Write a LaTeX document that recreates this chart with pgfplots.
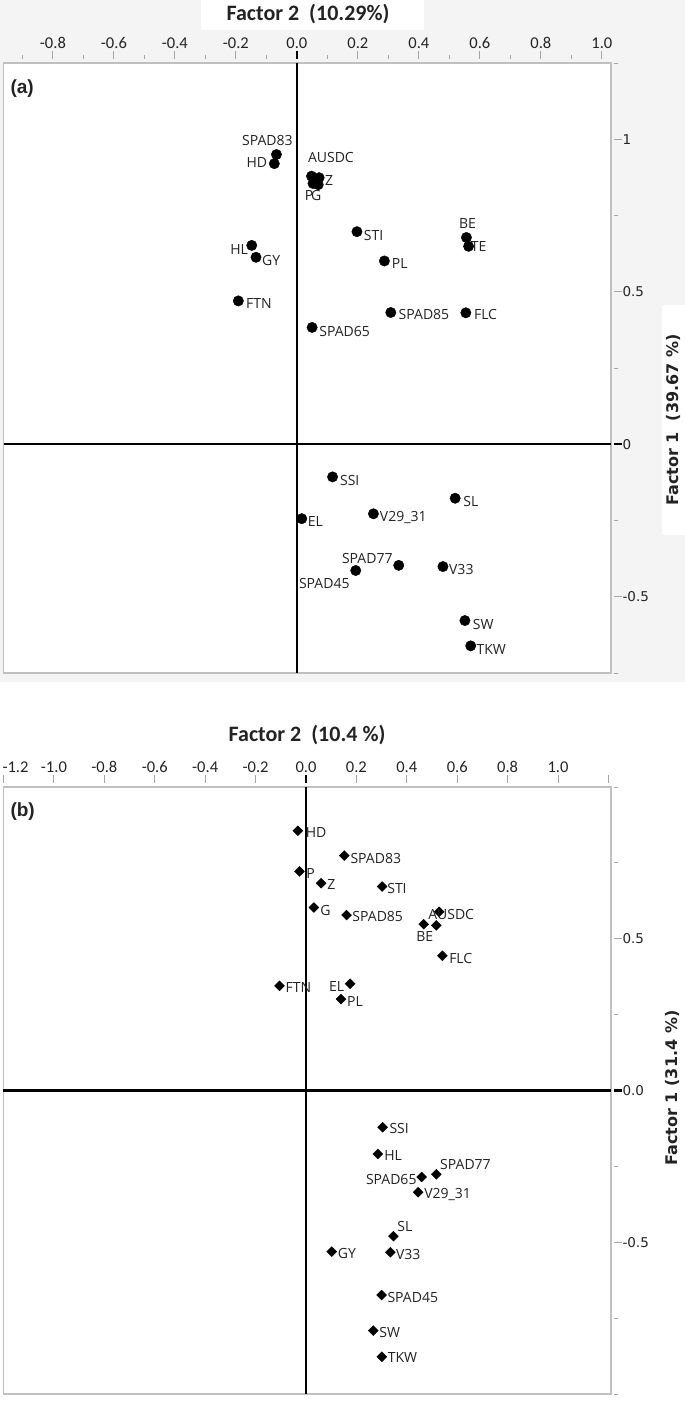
\documentclass[border=0pt]{standalone}
\usepackage{pgfplots}
\pgfplotsset{compat=1.18}
\usepackage{fontspec}
\setmainfont{Open Sans}
\newfontfamily\carlito{Carlito}
\newfontfamily\dejavu{DejaVu Sans}
\newfontfamily\arialf{Liberation Sans}

\definecolor{bgA}{RGB}{244,244,244}
\definecolor{framec}{RGB}{192,192,192}
\definecolor{tickc}{RGB}{165,165,165}
\definecolor{txt}{RGB}{35,35,35}

\pgfplotsset{
  pca/.style={
    scale only axis, clip=false,
    anchor=north west,
    axis background/.style={fill=white},
    axis line style={draw=framec, line width=1.4pt},
    tick align=outside,
    xtick pos=right, ytick pos=right,
    xticklabel pos=right, yticklabel pos=right,
    tick style={tickc, line width=0.9pt},
    xtick style={yshift=4pt},
    ytick style={xshift=3pt},
    major tick length=8pt, minor tick length=4pt,
    /pgf/number format/assume math mode=true,
    xticklabel style={font=\carlito\fontsize{16.5}{18}\selectfont, text=txt, yshift=3pt},
    yticklabel style={font=\dejavu\fontsize{13.5}{16}\selectfont, text=txt},
    extra x ticks={0}, extra x tick labels={},
    extra y ticks={0}, extra y tick labels={},
    extra tick style={grid=major, major grid style={black, line width=2.2pt},
      tick style={black, line width=2.4pt}},
  },
  lbls/.style={
    nodes near coords, point meta=explicit symbolic,
    visualization depends on={value \thisrow{anc}\as\anc},
    visualization depends on={\thisrow{dx}\as\dx},
    visualization depends on={\thisrow{dy}\as\dy},
    every node near coord/.append style={anchor=\anc, xshift=\dx pt, yshift=\dy pt,
      inner sep=0pt, text=txt, font=\fontsize{14}{16}\selectfont},
  },
}

\begin{document}
\begin{tikzpicture}[x=1pt,y=1pt]
\useasboundingbox (0,0) rectangle (685,-1401);
\fill[bgA] (0,0) rectangle (685,-682);
\fill[white] (201,0) rectangle (424,-30);
\fill[white] (662,-305) rectangle (685,-535);

% panel (a): x = factor 2, y = factor 1
\begin{axis}[pca, at={(3.5pt,-63pt)},
  width=607.5pt, height=610pt,
  xmin=-0.962, xmax=1.030, ymin=-0.75, ymax=1.25,
  xtick={-0.8,-0.6,-0.4,-0.2,0,0.2,0.4,0.6,0.8,1.0},
  minor xtick={-0.9,-0.7,-0.5,-0.3,-0.1,0.1,0.3,0.5,0.7,0.9},
  ytick={-0.5,0,0.5,1},
  minor ytick={-0.75,-0.25,0.25,0.75,1.25},
  xticklabel style={/pgf/number format/.cd, fixed, fixed zerofill, precision=1},
]
\addplot[only marks, mark=*, mark size=5.2pt, mark options={fill=black, draw=black}, lbls]
  table[col sep=comma, x=x, y=y, meta=lbl]{
x,y,lbl,anc,dx,dy
-0.067,0.950,SPAD83,base,-9,9
-0.074,0.920,HD,base east,-7,-3.7
0.048,0.879,AUSDC,base west,-3.7,13.7
0.073,0.874,Z,base west,5.7,-7.7
0.053,0.855,P,base west,-8.3,-16.7
0.070,0.851,G,base west,-7.3,-15.7
0.197,0.697,STI,base west,6.7,-8.7
0.556,0.678,BE,base,1,9.3
0.563,0.649,TE,base west,2,-5
-0.148,0.652,HL,base east,-3.7,-8.7
-0.134,0.613,GY,base west,6,-8
0.287,0.601,PL,base west,7.3,-7.3
-0.192,0.470,FTN,base west,7.7,-7.3
0.308,0.432,SPAD85,base west,7.7,-6.7
0.554,0.431,FLC,base west,8,-6.3
0.050,0.383,SPAD65,base west,7,-8.7
0.117,-0.107,SSI,base west,7.3,-8.3
0.519,-0.177,SL,base west,8,-8
0.016,-0.244,EL,base west,6,-7.7
0.251,-0.228,V29\_31,base west,6.3,-8
0.334,-0.397,SPAD77,base east,-6,2.3
0.193,-0.414,SPAD45,base east,-6,-18
0.479,-0.401,V33,base west,6,-7.7
0.551,-0.578,SW,base west,7.7,-8.7
0.570,-0.661,TKW,base west,5.7,-8.3
};
\end{axis}

% panel (b)
\begin{axis}[pca, at={(3.5pt,-787pt)},
  width=607.5pt, height=607pt,
  xmin=-1.2, xmax=1.21, ymin=-1, ymax=1,
  xtick={-1.2,-1.0,-0.8,-0.6,-0.4,-0.2,0,0.2,0.4,0.6,0.8,1.0,1.2},
  xticklabels={\hspace*{24pt}-1.2,-1.0,-0.8,-0.6,-0.4,-0.2,0.0,0.2,0.4,0.6,0.8,1.0,{}},
  ytick={-0.5,0,0.5},
  minor ytick={-1,-0.75,-0.25,0.25,0.75,1},
  yticklabel style={/pgf/number format/.cd, fixed, fixed zerofill, precision=1},
]
\addplot[only marks, mark=square*, mark size=3.5pt, mark options={rotate=45, fill=black, draw=black}, lbls]
  table[col sep=comma, x=x, y=y, meta=lbl]{
x,y,lbl,anc,dx,dy
-0.032,0.856,HD,base west,7.7,-6.6
0.152,0.774,SPAD83,base west,6,-7.6
-0.026,0.722,P,base west,6.7,-6.7
0.060,0.683,Z,base west,6,-6.7
0.302,0.672,STI,base west,5,-6.6
0.031,0.603,G,base west,6.4,-7.7
0.161,0.578,SPAD85,base west,5.7,-6.7
0.528,0.589,AUSDC,base west,-11,-7.3
0.467,0.548,BE,base,1,-17.7
0.541,0.444,FLC,base west,6.7,-7.6
-0.105,0.345,FTN,base west,6,-7
0.175,0.352,EL,base east,-5.7,-8
0.139,0.301,PL,base west,6,-7.4
0.304,-0.121,SSI,base west,6.7,-6.7
0.285,-0.209,HL,base west,6.3,-7
0.459,-0.285,SPAD65,base east,-5,-7.6
0.517,-0.276,SPAD77,base west,3.7,5
0.445,-0.335,V29\_31,base west,6,-6.7
0.347,-0.480,SL,base west,3.7,4.3
0.102,-0.531,GY,base west,6,-7.3
0.335,-0.533,V33,base west,5.4,-7
0.300,-0.674,SPAD45,base west,5.7,-7.3
0.267,-0.791,SW,base west,6,-7
0.301,-0.877,TKW,base west,5.7,-6.3
};
% TE sits under the AUSDC label and has no label of its own
\addplot[only marks, mark=square*, mark size=3.5pt, mark options={rotate=45, fill=black, draw=black}]
  coordinates {(0.517,0.544)};
\end{axis}

\node[font=\carlito\bfseries\fontsize{22}{24}\selectfont, text=txt] at (308,-14) {Factor 2\ \ (10.29\%)};
\node[font=\carlito\bfseries\fontsize{22}{24}\selectfont, text=txt] at (307,-735) {Factor 2\ \ (10.4 \%)};
\node[rotate=90, font=\dejavu\bfseries\fontsize{16}{18}\selectfont, text=txt] at (673,-420) {Factor 1\ \ (39.67 \%)};
\node[rotate=90, font=\dejavu\bfseries\fontsize{16}{18}\selectfont, text=txt] at (672,-1088) {Factor 1 (31.4 \%)};
\node[anchor=west, font=\arialf\bfseries\fontsize{19}{21}\selectfont, text=txt] at (7,-89) {(a)};
\node[anchor=west, font=\arialf\bfseries\fontsize{19}{21}\selectfont, text=txt] at (7,-812) {(b)};
\end{tikzpicture}
\end{document}
